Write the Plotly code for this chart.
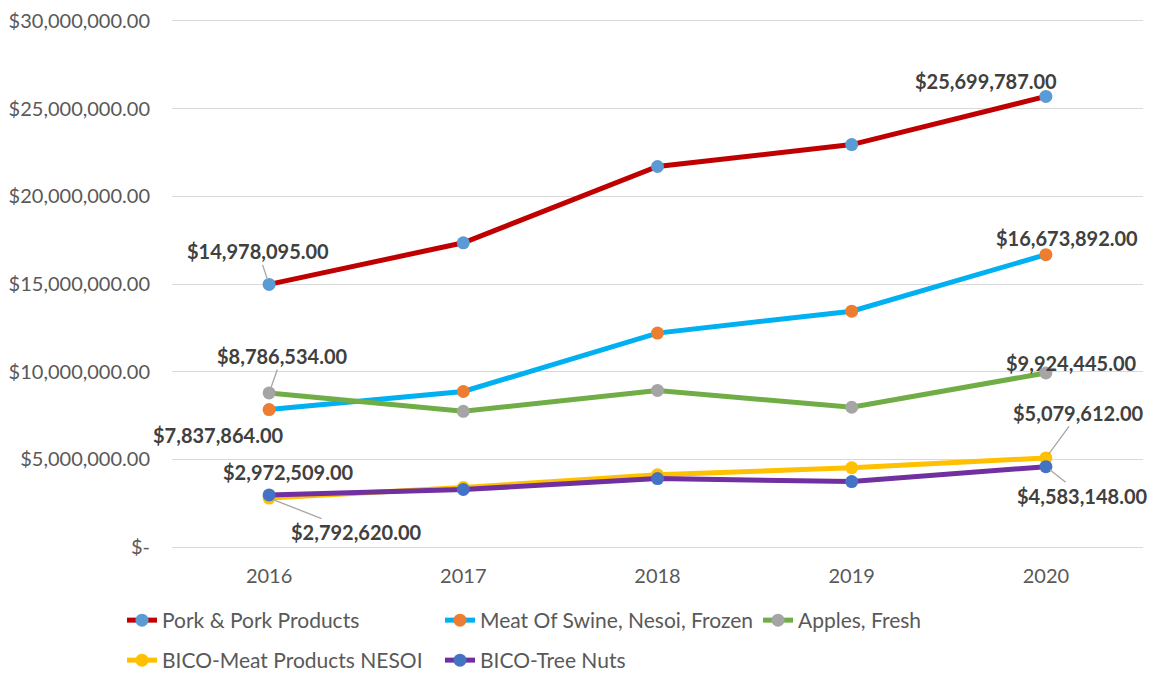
import plotly.graph_objects as go

years = ["2016", "2017", "2018", "2019", "2020"]
pork = [14978095, 17350000, 21700000, 22950000, 25699787]
meat_swine = [7837864, 8870000, 12200000, 13450000, 16673892]
apples = [8786534, 7740000, 8930000, 7970000, 9924445]
bico_meat = [2792620, 3390000, 4120000, 4520000, 5079612]
tree_nuts = [2972509, 3280000, 3900000, 3730000, 4583148]

y_ticks = [0, 5000000, 10000000, 15000000, 20000000, 25000000, 30000000]
y_ticktext = ["$-" if t == 0 else f"${t:,.2f}" for t in y_ticks]

series = [
    ("Pork & Pork Products", pork, "#C00000", "#5B9BD5", "legend"),
    ("Meat Of Swine, Nesoi, Frozen", meat_swine, "#00B0F0", "#ED7D31", "legend"),
    ("Apples, Fresh", apples, "#70AD47", "#A5A5A5", "legend"),
    ("BICO-Meat Products NESOI", bico_meat, "#FFC000", "#FFC000", "legend2"),
    ("BICO-Tree Nuts", tree_nuts, "#7030A0", "#4472C4", "legend2"),
]

FONT = "Lato, Calibri, 'Open Sans', sans-serif"

fig = go.Figure()
for name, vals, lc, mc, lg in series:
    fig.add_trace(go.Scatter(
        x=list(range(len(years))), y=vals, name=name, mode="lines+markers",
        line=dict(color=lc, width=5),
        marker=dict(color=mc, size=13),
        legend=lg, hoverinfo="skip",
    ))

# labels: (series index, point index, ax, ay, leader)
labels = [
    (0, 0, -11, -33, True),
    (0, 4, -60, -15, False),
    (1, 0, -51, 25, False),
    (1, 4, 21, -17, False),
    (2, 0, 13, -37, True),
    (2, 4, 26, -10, False),
    (3, 0, 87, 34, True),
    (3, 4, 33, -45, True),
    (4, 0, 19, -23, False),
    (4, 4, 37, 29, True),
]
for si, pi, ax, ay, leader in labels:
    v = series[si][1][pi]
    fig.add_annotation(
        x=pi, y=v, ax=ax, ay=ay, axref="pixel", ayref="pixel",
        text=f"<b>${v:,.2f}</b>",
        showarrow=True, arrowhead=0, arrowwidth=1.3,
        arrowcolor="#A6A6A6" if leader else "rgba(0,0,0,0)",
        standoff=5,
        font=dict(family=FONT, size=20, color="#404040"),
    )

fig.update_layout(
    width=1155, height=675,
    margin=dict(l=164, r=20, t=0, b=136, autoexpand=False),
    paper_bgcolor="white", plot_bgcolor="white",
    font=dict(family=FONT, size=20, color="#595959"),
    xaxis=dict(
        range=[-0.5, 4.5], tickmode="array", tickvals=list(range(len(years))),
        ticktext=years, showgrid=False, zeroline=False,
        showline=False,
        ticks="", tickfont=dict(size=20, color="#595959"),
        ticklabelstandoff=15, automargin=False,
    ),
    yaxis=dict(
        range=[0, 30741000], tickmode="array", tickvals=y_ticks, ticktext=y_ticktext,
        showgrid=True, gridcolor="#D9D9D9", gridwidth=1.3,
        zeroline=True, zerolinecolor="#D9D9D9", zerolinewidth=1.3,
        ticklabelstandoff=21, automargin=False, ticklabeloverflow="allow",
        tickfont=dict(size=20, color="#595959"),
    ),
    legend=dict(
        orientation="h", x=-0.0515, xanchor="left", y=-0.0983, yanchor="top",
        entrywidth=273, entrywidthmode="pixels",
        font=dict(family=FONT, size=21, color="#595959"), itemclick=False,
    ),
    legend2=dict(
        orientation="h", x=-0.0515, xanchor="left", y=-0.1725, yanchor="top",
        entrywidth=273, entrywidthmode="pixels",
        font=dict(family=FONT, size=21, color="#595959"), itemclick=False,
    ),
    showlegend=True,
)

fig.write_html("out.html")
